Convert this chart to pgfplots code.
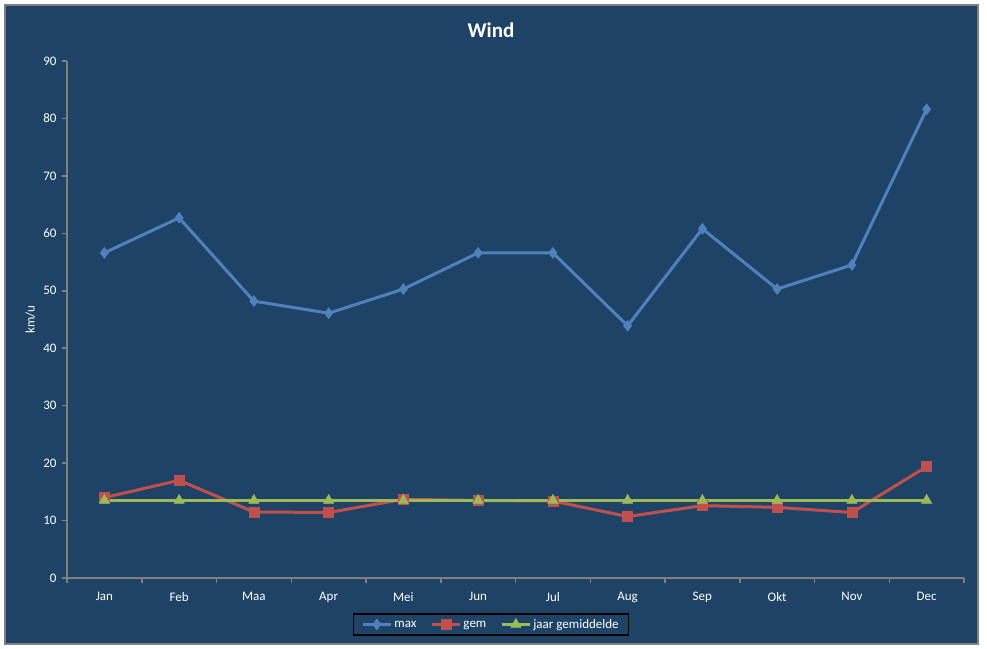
\documentclass[border=0pt]{standalone}
\usepackage{pgfplots}
\pgfplotsset{compat=1.18}
\usepackage{fontspec}
\setmainfont{Carlito}

\definecolor{bgblue}{HTML}{1F4366}
\definecolor{axgray}{HTML}{808080}
\definecolor{cmax}{HTML}{4F81BD}
\definecolor{cgem}{HTML}{C0504D}
\definecolor{cjaar}{HTML}{9BBB59}

\begin{document}
\begin{tikzpicture}[font=\fontsize{13}{15}\selectfont]
  % page and chart area (1pt = 1px, origin at the axis corner)
  \useasboundingbox (-67pt,-70pt) rectangle (920pt,578pt);
  \fill[white] (-67pt,-70pt) rectangle (920pt,578pt);
  \draw[axgray, line width=2pt, fill=bgblue] (-62pt,-66pt) rectangle (911pt,573pt);

  \begin{axis}[
      at={(0pt,0pt)}, anchor=origin,
      scale only axis,
      width=897pt, height=517pt,
      xmin=0.5, xmax=12.5,
      ymin=0, ymax=90,
      axis x line=bottom,
      axis y line=left,
      axis line style={-, axgray, line width=1.5pt},
      xtick={1,...,12},
      xticklabels={Jan,Feb,Maa,Apr,Mei,Jun,Jul,Aug,Sep,Okt,Nov,Dec},
      minor xtick={0.5,1.5,...,12.5},
      major x tick style={draw=none},
      minor tick length=5pt,
      major tick length=5pt,
      tick align=outside,
      tick style={axgray, line width=1.5pt},
      ytick={0,10,...,90},
      xticklabel style={white, yshift=-6pt},
      yticklabel style={white, xshift=-2pt},
      /pgf/number format/assume math mode=true,
      ylabel={km/u},
      ylabel style={white, at={(axis description cs:-0.0407,0.5)}, anchor=center},
      title={\textbf{Wind}},
      title style={white, font=\fontsize{21}{25}\selectfont, at={(axis description cs:0.4727,1.048)}, anchor=center},
      legend columns=3,
      legend image code/.code={
        \draw[mark repeat=2, mark phase=2] plot coordinates {(0pt,0pt) (14pt,0pt) (28pt,0pt)};
      },
      legend style={at={(axis description cs:0.4727,-0.0899)}, anchor=center,
        fill=bgblue, draw=black, line width=1.5pt, text=white,
        inner xsep=8pt, inner ysep=4pt,
        nodes={text depth=0pt, inner xsep=2pt},
        /tikz/every even column/.append style={column sep=12pt}},
      legend cell align=left,
    ]
    \addplot[cmax, line width=3pt, mark=diamond*, mark size=5.5pt, mark options={line width=0.5pt}] coordinates {
      (1,56.6) (2,62.7) (3,48.2) (4,46.1) (5,50.3) (6,56.6)
      (7,56.6) (8,43.9) (9,60.8) (10,50.3) (11,54.5) (12,81.6)
    };
    \addlegendentry{max}
    \addplot[cgem, line width=3pt, mark=square*, mark size=5pt, mark options={line width=0.5pt}] coordinates {
      (1,14.0) (2,17.0) (3,11.5) (4,11.4) (5,13.7) (6,13.5)
      (7,13.4) (8,10.7) (9,12.6) (10,12.3) (11,11.4) (12,19.4)
    };
    \addlegendentry{gem}
    \addplot[cjaar, line width=3pt, mark=triangle*, mark size=6pt, mark options={line width=0.5pt}] coordinates {
      (1,13.5) (2,13.5) (3,13.5) (4,13.5) (5,13.5) (6,13.5)
      (7,13.5) (8,13.5) (9,13.5) (10,13.5) (11,13.5) (12,13.5)
    };
    \addlegendentry{jaar gemiddelde}
  \end{axis}
\end{tikzpicture}
\end{document}
